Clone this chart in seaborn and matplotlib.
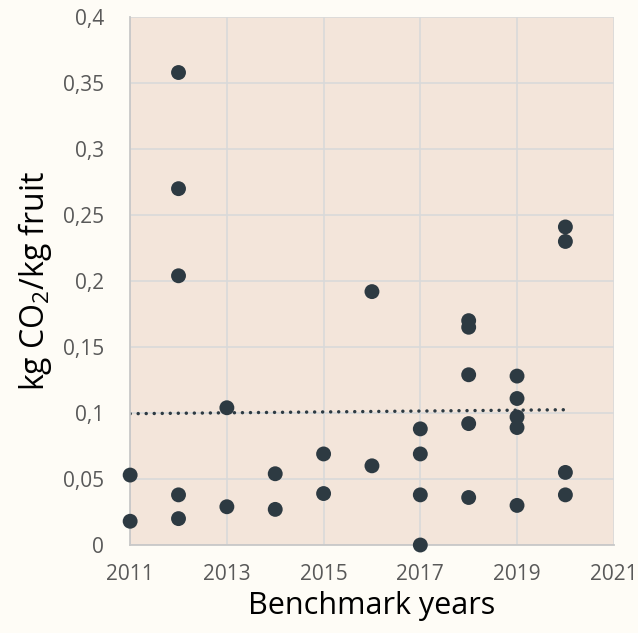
"""
Carbon footprint benchmark scatter: kg CO2 per kg fruit by benchmark year.
"""

import matplotlib

matplotlib.use("Agg")
import matplotlib.pyplot as plt  # noqa: E402
import pandas as pd  # noqa: E402
import seaborn as sns  # noqa: E402
from matplotlib.ticker import FuncFormatter, MultipleLocator  # noqa: E402

# benchmark values per year
years = [
    2011, 2011,
    2012, 2012, 2012, 2012, 2012,
    2013, 2013,
    2014, 2014,
    2015, 2015,
    2016, 2016,
    2017, 2017, 2017, 2017,
    2018, 2018, 2018, 2018, 2018,
    2019, 2019, 2019, 2019, 2019,
    2020, 2020, 2020, 2020,
]
co2_per_kg = [
    0.053, 0.018,
    0.358, 0.270, 0.204, 0.038, 0.020,
    0.104, 0.029,
    0.054, 0.027,
    0.069, 0.039,
    0.192, 0.060,
    0.088, 0.069, 0.038, 0.000,
    0.170, 0.165, 0.129, 0.092, 0.036,
    0.128, 0.111, 0.097, 0.089, 0.030,
    0.241, 0.230, 0.055, 0.038,
]
x_ticks = [2011, 2013, 2015, 2017, 2019, 2021]

# linear trend endpoints
trend_years = [2011, 2020]
trend_values = [0.0995, 0.1025]

FIG_BG = "#FEFCF6"
AX_BG = "#F3E5DA"
GRID = "#D9D9D9"
DOT = "#2D3A42"
TICK_TXT = "#595959"

df = pd.DataFrame({"year": years, "co2": co2_per_kg})
trend = pd.DataFrame({"year": trend_years, "co2": trend_values})

sns.set_theme(style="whitegrid")
plt.rcParams["font.family"] = ["Open Sans", "DejaVu Sans"]
plt.rcParams["mathtext.fontset"] = "custom"
plt.rcParams["mathtext.rm"] = "Open Sans"
plt.rcParams["mathtext.it"] = "Open Sans"

fig = plt.figure(figsize=(6.38, 6.33), dpi=100, facecolor=FIG_BG)
ax = fig.add_axes([0.204, 0.139, 0.758, 0.834])
ax.set_facecolor(AX_BG)

sns.lineplot(
    data=trend, x="year", y="co2", ax=ax, color=DOT,
    linewidth=2.5, linestyle=(0, (0.01, 2.3)), zorder=2,
)
ax.lines[-1].set_dash_capstyle("round")
sns.scatterplot(
    data=df, x="year", y="co2", ax=ax, color=DOT,
    s=115, edgecolor="none", zorder=3, clip_on=False,
)

ax.set_xlim(2011, 2021)
ax.set_ylim(0, 0.4)
ax.set_xticks(x_ticks)
ax.yaxis.set_major_locator(MultipleLocator(0.05))
ax.yaxis.set_major_formatter(FuncFormatter(lambda v, _: f"{v:.2f}".rstrip("0").rstrip(".").replace(".", ",")))
ax.xaxis.set_major_formatter(FuncFormatter(lambda v, _: f"{int(round(v))}"))

ax.grid(True, color=GRID, linewidth=1.2)
ax.set_axisbelow(True)
for side in ["top", "right"]:
    ax.spines[side].set_visible(False)
for side in ["left", "bottom"]:
    ax.spines[side].set_color("#C8C8C8")
    ax.spines[side].set_linewidth(1.3)

ax.tick_params(axis="both", length=0, labelsize=15, labelcolor=TICK_TXT)
ax.tick_params(axis="y", pad=19)
ax.tick_params(axis="x", pad=14)

ax.set_xlabel("Benchmark years", fontsize=22, color="black", labelpad=4)
ax.set_ylabel(r"kg CO$_2$/kg fruit", fontsize=23, color="black", labelpad=6)

fig.savefig("out.png", dpi=100, facecolor=FIG_BG)
